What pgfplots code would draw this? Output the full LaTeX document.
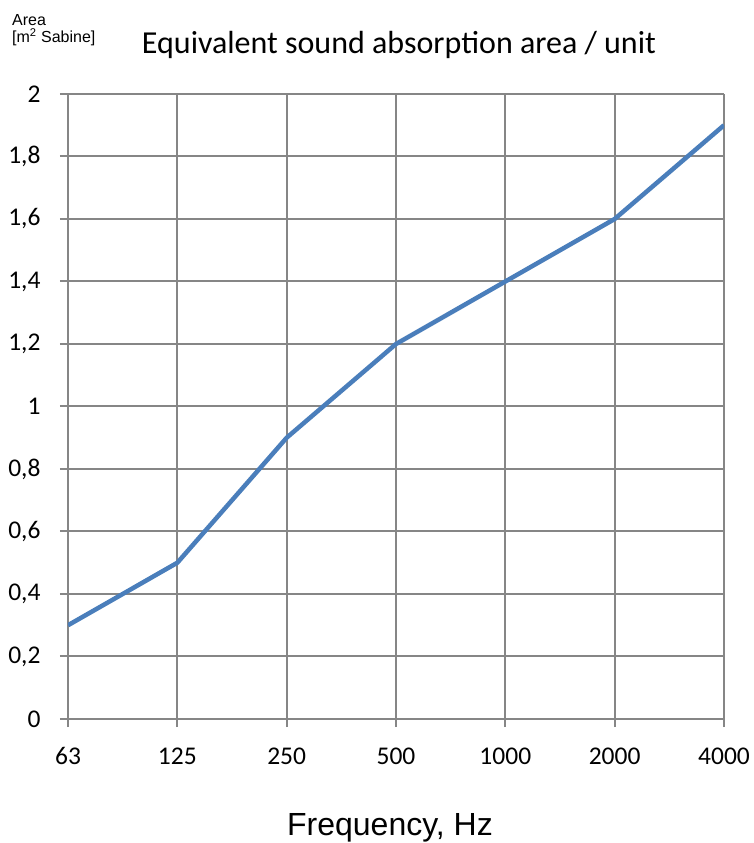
\documentclass[border=0pt]{standalone}
\usepackage{pgfplots}
\pgfplotsset{compat=1.18}
\usepackage{fontspec}
\setmainfont{Carlito}
\newfontfamily\arial{Liberation Sans}
\definecolor{lineblue}{RGB}{74,126,187}
\definecolor{gridgray}{RGB}{134,134,134}

\begin{document}
\begin{tikzpicture}
\useasboundingbox (-68pt,-124pt) rectangle (685pt,719pt);
\begin{axis}[
  at={(0pt,0pt)}, anchor=south west,
  scale only axis,
  width=656pt, height=625pt,
  xmin=0, xmax=6, ymin=0, ymax=2,
  xtick={0,1,2,3,4,5,6},
  xticklabels={63,125,250,500,1000,2000,4000},
  ytick={0,0.2,0.4,0.6,0.8,1,1.2,1.4,1.6,1.8,2},
  yticklabels={0,{0,2},{0,4},{0,6},{0,8},1,{1,2},{1,4},{1,6},{1,8},2},
  axis x line*=bottom, axis y line*=left,
  axis line style={gridgray, line width=2pt, -},
  grid=major,
  major grid style={gridgray, line width=2pt},
  tick style={gridgray, line width=2pt},
  tick align=outside,
  major tick length=8pt,
  ticklabel style={font=\fontsize{25.5}{30}\selectfont, black},
  xticklabel style={yshift=-17pt},
  yticklabel style={xshift=-16pt},
]
\addplot[lineblue, line width=4.5pt, line join=round] coordinates {
(0,0.3)(1,0.5)(2,0.9)(3,1.2)(4,1.4)(5,1.6)(6,1.9)
};
\end{axis}
\node[font=\fontsize{32}{36}\selectfont] at (331pt,674pt) {Equivalent sound absorption area / unit};
\node[font=\arial\fontsize{16}{17}\selectfont, anchor=base west, align=left, inner sep=0pt] at (-56pt,676pt) {Area\\{[}m\textsuperscript{2} Sabine{]}};
\node[font=\arial\fontsize{32}{36}\selectfont] at (322pt,-109pt) {Frequency, Hz};
\end{tikzpicture}
\end{document}
